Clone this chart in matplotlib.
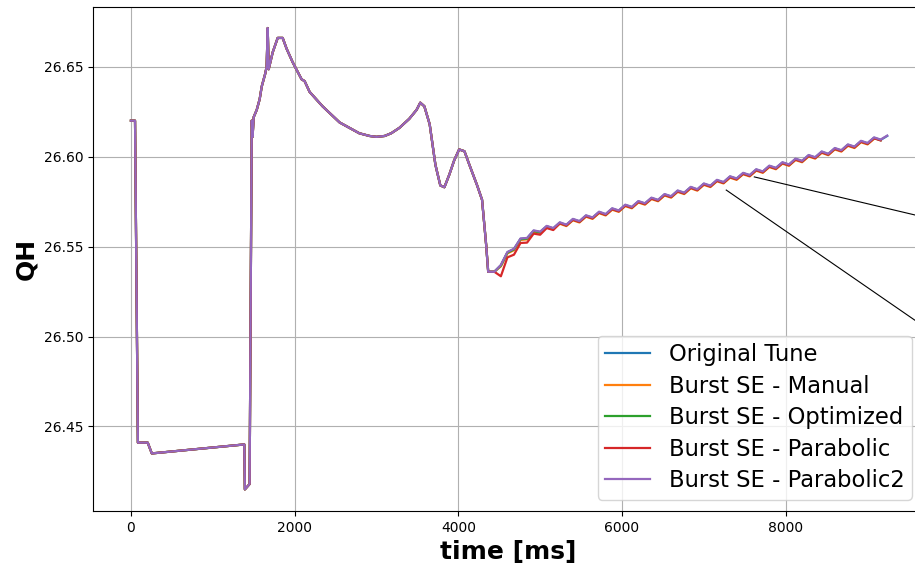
import numpy as np
import matplotlib
matplotlib.use('Agg')
import matplotlib.pyplot as plt
from mpl_toolkits.axes_grid1.inset_locator import mark_inset


# common part (all tunes identical up to ~4400 ms)
t_head = [0, 50, 85, 205, 255, 1385, 1392, 1450, 1476, 1486, 1500, 1537, 1573,
          1598, 1640, 1658, 1671, 1683, 1732, 1793, 1854, 1902, 1976, 2085,
          2122, 2183, 2341, 2550, 2790, 2915, 3000, 3100, 3180, 3280, 3400,
          3490, 3535, 3585, 3650, 3720, 3780, 3830, 3890, 3950, 4010, 4075,
          4135, 4230, 4290, 4340, 4365]
qh_head = [26.620, 26.620, 26.441, 26.441, 26.435, 26.440, 26.415, 26.418,
           26.620, 26.611, 26.622, 26.626, 26.632, 26.639, 26.646, 26.650,
           26.6715, 26.6486, 26.658, 26.666, 26.666, 26.660, 26.6525, 26.643,
           26.642, 26.636, 26.628, 26.619, 26.613, 26.6115, 26.611, 26.6115,
           26.613, 26.616, 26.621, 26.626, 26.630, 26.628, 26.618, 26.5955,
           26.584, 26.583, 26.590, 26.598, 26.604, 26.603, 26.5955, 26.584,
           26.576, 26.551, 26.536]

# tail sampled every 80 ms from 4440 ms
t_tail = np.arange(4440, 9241, 80)

qh_parabolic2 = [26.5360, 26.5398, 26.5470, 26.5488, 26.5545, 26.5548, 26.5590,
                 26.5583, 26.5615, 26.5603, 26.5635, 26.5622, 26.5654, 26.5642,
                 26.5674, 26.5662, 26.5694, 26.5681, 26.5713, 26.5701, 26.5733,
                 26.5721, 26.5753, 26.5741, 26.5772, 26.5760, 26.5792, 26.5780,
                 26.5812, 26.5800, 26.5832, 26.5819, 26.5851, 26.5839, 26.5871,
                 26.5859, 26.5891, 26.5879, 26.5910, 26.5898, 26.5930, 26.5918,
                 26.5950, 26.5938, 26.5969, 26.5957, 26.5989, 26.5977, 26.6009,
                 26.5997, 26.6029, 26.6016, 26.6048, 26.6036, 26.6068, 26.6056,
                 26.6088, 26.6076, 26.6107, 26.6095, 26.6117]

qh_original = [26.5360, 26.5396, 26.5468, 26.5486, 26.5543, 26.5546, 26.5588,
               26.5581, 26.5613, 26.5601, 26.5633, 26.5620, 26.5652, 26.5640,
               26.5672, 26.5660, 26.5692, 26.5679, 26.5711, 26.5699, 26.5731,
               26.5719, 26.5751, 26.5739, 26.5770, 26.5758, 26.5790, 26.5778,
               26.5810, 26.5798, 26.5830, 26.5817, 26.5849, 26.5837, 26.5869,
               26.5857, 26.5889, 26.5877, 26.5908, 26.5896, 26.5928, 26.5916,
               26.5948, 26.5936, 26.5967, 26.5955, 26.5987, 26.5975, 26.6007,
               26.5995, 26.6027, 26.6014, 26.6046, 26.6034, 26.6066, 26.6054,
               26.6086, 26.6074, 26.6105, 26.6093, 26.6115]

qh_manual = [26.5360, 26.5390, 26.5462, 26.5480, 26.5537, 26.5540, 26.5582,
             26.5575, 26.5607, 26.5595, 26.5627, 26.5614, 26.5646, 26.5634,
             26.5666, 26.5654, 26.5686, 26.5673, 26.5705, 26.5693, 26.5725,
             26.5713, 26.5745, 26.5733, 26.5764, 26.5752, 26.5784, 26.5772,
             26.5804, 26.5792, 26.5824, 26.5811, 26.5843, 26.5831, 26.5863,
             26.5851, 26.5883, 26.5871, 26.5902, 26.5890, 26.5922, 26.5910,
             26.5942, 26.5930, 26.5961, 26.5949, 26.5981, 26.5969, 26.6001,
             26.5989, 26.6021, 26.6008, 26.6040, 26.6028, 26.6060, 26.6048,
             26.6080, 26.6068, 26.6099]

qh_optimized = [26.5360, 26.5394, 26.5466, 26.5484, 26.5541, 26.5544, 26.5586,
                26.5579, 26.5611, 26.5599, 26.5631, 26.5618, 26.5650, 26.5638,
                26.5670, 26.5658, 26.5690, 26.5677, 26.5709, 26.5697, 26.5729,
                26.5717, 26.5749, 26.5737, 26.5768, 26.5756, 26.5788, 26.5776,
                26.5808, 26.5796, 26.5828, 26.5815, 26.5847, 26.5835, 26.5867,
                26.5855, 26.5887, 26.5875, 26.5906, 26.5894, 26.5926, 26.5914,
                26.5946, 26.5934, 26.5965, 26.5953, 26.5985, 26.5973, 26.6005,
                26.5993, 26.6025, 26.6012, 26.6044, 26.6032, 26.6064, 26.6052,
                26.6084, 26.6072, 26.6103, 26.6091]

qh_parabolic = [26.5360, 26.5335, 26.5440, 26.5455, 26.5520, 26.5522, 26.5572,
                26.5566, 26.5603, 26.5592, 26.5630, 26.5617, 26.5649, 26.5637,
                26.5669, 26.5657, 26.5689, 26.5676, 26.5708, 26.5696, 26.5728,
                26.5716, 26.5748, 26.5736, 26.5767, 26.5755, 26.5787, 26.5775,
                26.5807, 26.5795, 26.5827, 26.5814, 26.5846, 26.5834, 26.5866,
                26.5854, 26.5886, 26.5874, 26.5905, 26.5893, 26.5925, 26.5913,
                26.5945, 26.5933, 26.5964, 26.5952, 26.5984, 26.5972, 26.6004,
                26.5992, 26.6024, 26.6011, 26.6043, 26.6031, 26.6063, 26.6051,
                26.6083, 26.6071, 26.6102, 26.6090]

labels = ['Original Tune', 'Burst SE - Manual', 'Burst SE - Optimized',
          'Burst SE - Parabolic', 'Burst SE - Parabolic2']
tails = [qh_original, qh_manual, qh_optimized, qh_parabolic, qh_parabolic2]

# zoomed window (shown in an inset off to the right)
zoom_x = (7268, 7610)
zoom_y = (26.5816, 26.5888)


fig = plt.figure(figsize=(9.15, 5.64), dpi=100)
ax = fig.add_axes([0.1016, 0.094, 0.907, 0.8936])
axins = fig.add_axes([1.093, 0.328, 0.328, 0.129])

for lab, tail in zip(labels, tails):
    t = np.concatenate([t_head, t_tail[:len(tail)]])
    q = np.concatenate([qh_head, tail])
    ax.plot(t, q, label=lab, lw=1.6)
    axins.plot(t, q, lw=1.6)

ax.set_xlim(-464, 9676)
ax.set_ylim(26.4030, 26.6832)
ax.grid(True)
ax.set_xlabel('time [ms]', fontsize=18, fontweight='bold')
ax.set_ylabel('QH', fontsize=18, fontweight='bold')
ax.tick_params(labelsize=10)
ax.legend(loc='lower right', fontsize=16.3, labelspacing=0.38, borderpad=0.32)

axins.set_xlim(*zoom_x)
axins.set_ylim(*zoom_y)
axins.set_xticks([])
axins.set_yticks([])
pp, p1, p2 = mark_inset(ax, axins, loc1=1, loc2=3, fc='none', ec='k', lw=0.8)
pp.set_visible(False)

plt.savefig('out.png', dpi=100)
